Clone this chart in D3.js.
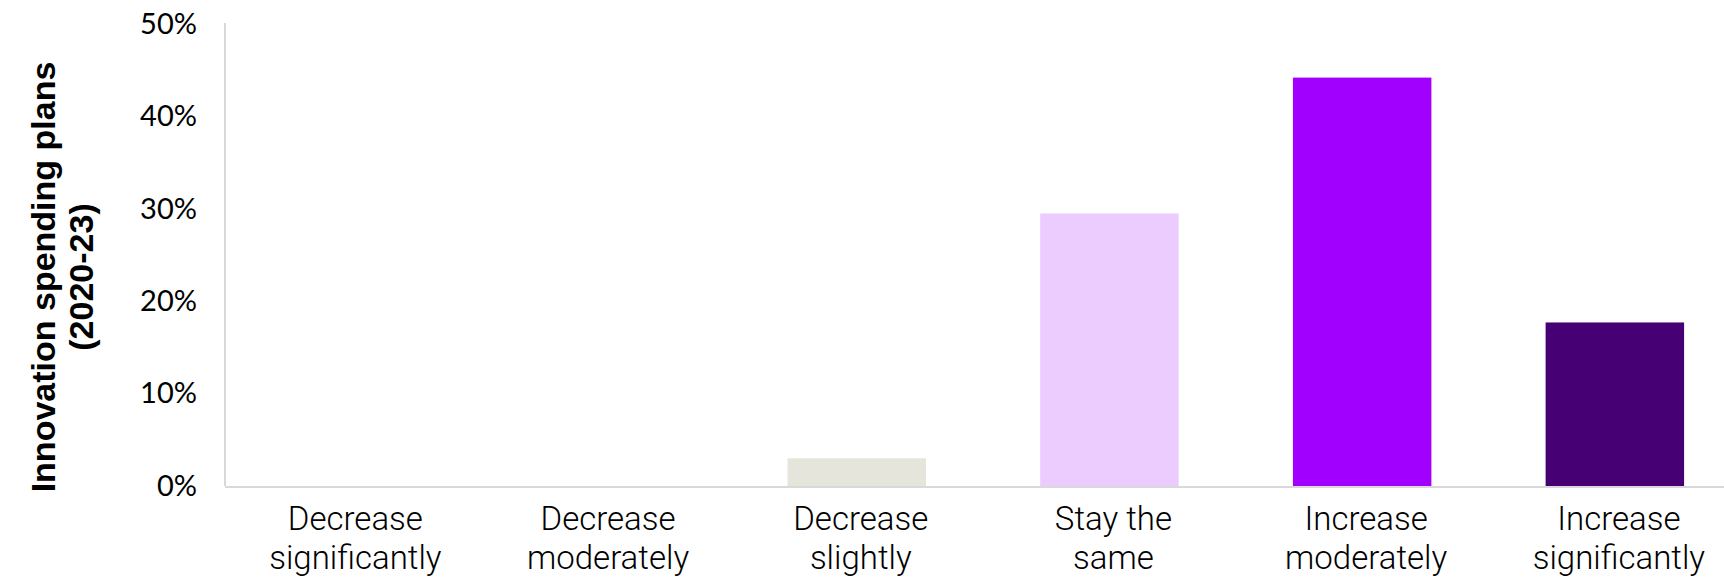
<!DOCTYPE html>
<html>
<head>
<meta charset="utf-8">
<script src="https://cdn.jsdelivr.net/npm/d3@7"></script>
<style>
	body { margin: 0; background: #fff; }
	.tick-label { font-family: Lato, "Open Sans", sans-serif; font-size: 29px; fill: #000; }
	.cat-label { font-family: Roboto, "Liberation Sans", sans-serif; font-weight: 300; font-size: 33px; fill: #000; }
	.axis-title { font-family: "Liberation Sans", Arial, sans-serif; font-weight: bold; font-size: 34px; fill: #000; }
</style>
</head>
<body>
<svg id="chart" width="1724" height="580"></svg>
<script>
// data
var categories = ["Decrease significantly", "Decrease moderately", "Decrease slightly",
	"Stay the same", "Increase moderately", "Increase significantly"];
var categoryLines = [["Decrease", "significantly"], ["Decrease", "moderately"], ["Decrease", "slightly"],
	["Stay the", "same"], ["Increase", "moderately"], ["Increase", "significantly"]];
var values = [0, 0, 0.030, 0.295, 0.442, 0.177];
var barColors = ["#E5E5DC", "#E5E5DC", "#E5E5DC", "#ECCCFE", "#A100FF", "#460073"];
var yTicks = [0, 0.1, 0.2, 0.3, 0.4, 0.5];
var yTitleLines = ["Innovation spending plans", "(2020-23)"];

var AXIS_X = 225, BASE_Y = 486, TOP_Y = 24;
var LABEL_LINE = 38.8;

var svg = d3.select("#chart");

var x = d3.scaleBand()
	.domain(categories)
	.range([AXIS_X, AXIS_X + 6 * 252.7])
	.paddingInner(0.452)
	.paddingOuter(0.226);

var y = d3.scaleLinear()
	.domain([0, 0.5])
	.range([BASE_Y, TOP_Y]);

// bars
svg.append("g")
	.selectAll("rect")
	.data(values)
	.enter()
	.append("rect")
	.attr("x", function(d, i) { return x(categories[i]); })
	.attr("y", function(d) { return y(d); })
	.attr("width", x.bandwidth())
	.attr("height", function(d) { return BASE_Y - y(d); })
	.attr("fill", function(d, i) { return barColors[i]; });

// y axis: thin grey line, labels only
var yAxis = d3.axisLeft(y)
	.tickValues(yTicks)
	.tickSize(0)
	.tickPadding(28)
	.tickFormat(d3.format(".0%"));

var yG = svg.append("g")
	.attr("transform", "translate(" + AXIS_X + ",0)")
	.call(yAxis);
yG.select(".domain").remove();
yG.selectAll("text")
	.attr("class", "tick-label")
	.attr("font-family", null)
	.attr("font-size", null)
	.attr("fill", null);

svg.append("line")
	.attr("x1", AXIS_X).attr("x2", AXIS_X)
	.attr("y1", y(0.5) - 1).attr("y2", BASE_Y)
	.style("stroke", "#D9D9D9")
	.style("stroke-width", 2);

// baseline
svg.append("line")
	.attr("x1", AXIS_X).attr("x2", 1724)
	.attr("y1", BASE_Y + 1).attr("y2", BASE_Y + 1)
	.style("stroke", "#D9D9D9")
	.style("stroke-width", 2);

// category labels (two lines each)
var catLabels = svg.append("g")
	.selectAll("text")
	.data(categories)
	.enter()
	.append("text")
	.attr("class", "cat-label")
	.attr("text-anchor", "middle")
	.attr("transform", function(d) {
		return "translate(" + (x(d) + x.bandwidth() / 2 + 4) + ",0)";
	});

catLabels.selectAll("tspan")
	.data(function(d, i) { return categoryLines[i]; })
	.enter()
	.append("tspan")
	.attr("x", 0)
	.attr("y", function(d, i) { return 530 + i * LABEL_LINE; })
	.text(function(d) { return d; });

// rotated y title
svg.append("text")
	.attr("class", "axis-title")
	.attr("text-anchor", "middle")
	.attr("transform", "translate(0,277) rotate(-90)")
	.selectAll("tspan")
	.data(yTitleLines)
	.enter()
	.append("tspan")
	.attr("x", 0)
	.attr("y", function(d, i) { return 55 + i * 38; })
	.text(function(d) { return d; });
</script>
</body>
</html>
